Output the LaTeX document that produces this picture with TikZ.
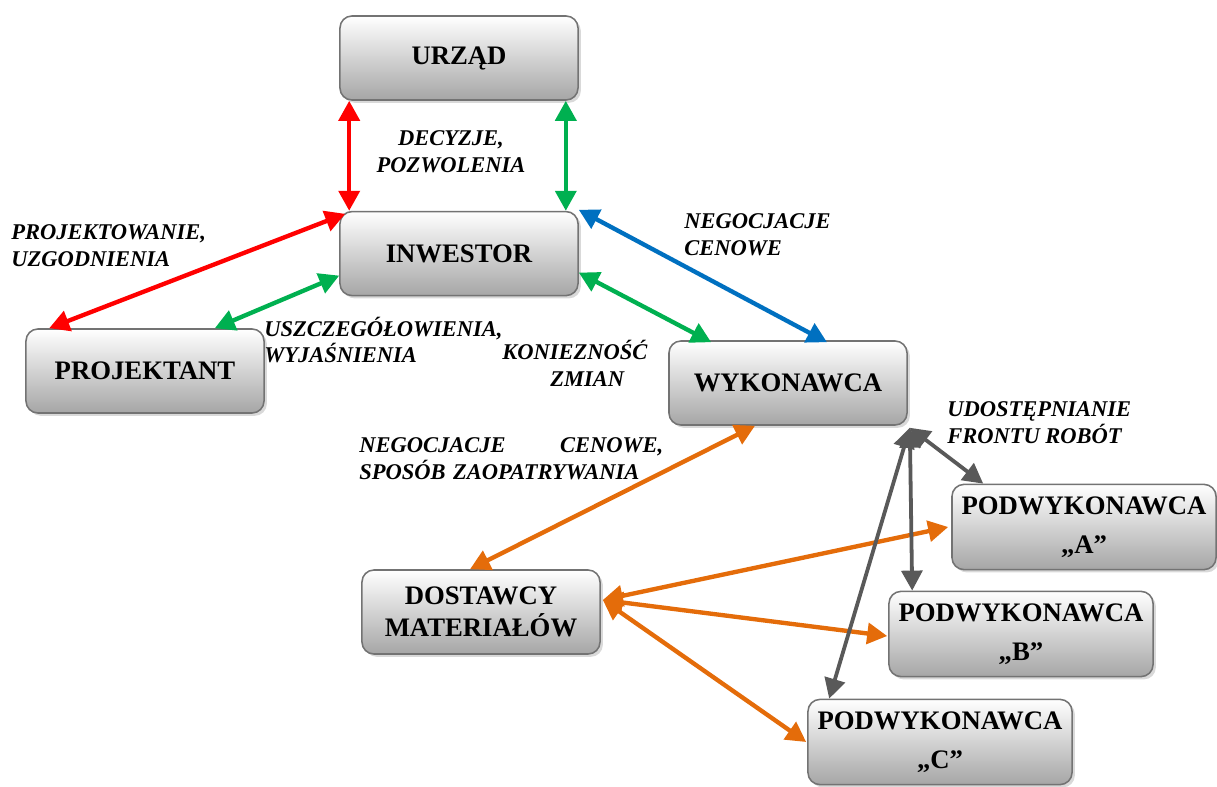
\documentclass[tikz,border=0pt]{standalone}
\usepackage{fontspec}
\setmainfont{Liberation Serif}
\usetikzlibrary{arrows.meta,positioning,calc,shadows}
\definecolor{linkred}{RGB}{255,0,0}
\definecolor{linkgreen}{RGB}{0,176,80}
\definecolor{linkblue}{RGB}{0,112,192}
\definecolor{linkorange}{RGB}{228,108,10}
\definecolor{linkgray}{RGB}{89,89,89}

\begin{document}
\begin{tikzpicture}[x=0.025cm,y=-0.025cm,>={Triangle[length=0.5cm,width=0.52cm]},
  box/.style={draw=black!55,line width=1.1pt,rounded corners=0.3cm,top color=white,bottom color=gray!70,
    drop shadow={shadow xshift=2pt,shadow yshift=-2pt,opacity=0.3},align=center,
    minimum width=5.95cm,minimum height=2.1cm,font=\bfseries\fontsize{19}{23}\selectfont},
  subbox/.style={box,minimum width=6.6cm,minimum height=2.13cm,font=\bfseries\fontsize{19}{28}\selectfont},
  lbl/.style={font=\bfseries\itshape\fontsize{16}{19}\selectfont,align=left,inner sep=0pt},
  link/.style={<->,line width=3.1pt}]
  \useasboundingbox (0,0) rectangle (1217,787);

  \node[box] (urz) at (459,58) {URZĄD};
  \node[box,below=2.75cm of urz] (inw) {INWESTOR};
  \node[box] (proj) at (145,371) {PROJEKTANT};
  \node[box] (wyk) at (788,383) {WYKONAWCA};
  \node[box] (dost) at (481,612) {DOSTAWCY\\MATERIAŁÓW};
  \node[subbox] (pa) at (1084,527) {PODWYKONAWCA\\„A”};
  \node[subbox] (pb) at (1021,634) {PODWYKONAWCA\\„B”};
  \node[subbox] (pc) at (940,742) {PODWYKONAWCA\\„C”};

  % labels
  \node[lbl,align=center] (decl) at (451,152) {DECYZJE,\\POZWOLENIA};
  \node[lbl,anchor=west] (projl) at (11,246) {PROJEKTOWANIE,\\UZGODNIENIA};
  \node[lbl,anchor=west] (uszl) at (264,340) {USZCZEGÓŁOWIENIA,\\WYJAŚNIENIA};
  \node[lbl,anchor=west] (konl) at (502,363) {KONIEZNOŚĆ\\\hspace*{1.2cm}ZMIAN};
  \node[lbl,anchor=west] (negl) at (684,235) {NEGOCJACJE\\CENOWE};
  \node[lbl,anchor=west,text width=7.6cm] (zaol) at (359,459) {NEGOCJACJE\hfill CENOWE,\\SPOSÓB ZAOPATRYWANIA};
  \node[lbl,anchor=west] (udol) at (947,423) {UDOSTĘPNIANIE\\FRONTU ROBÓT};

  % investor links
  \draw[link,linkred] ($(urz.south west)+(10,0)$) -- ($(inw.north west)+(10,0)$);
  \draw[link,linkgreen] ($(urz.south east)+(-13,0)$) -- ($(inw.north east)+(-13,0)$);
  \draw[link,linkred] ($(inw.north west)+(6,3)$) -- ($(proj.north west)+(24,0)$);
  \draw[link,linkgreen] ($(inw.west)+(0,22)$) -- ($(proj.north east)+(-50,0)$);
  \draw[link,linkblue] ($(inw.north east)+(0,-1)$) -- ($(wyk.north)+(39,2)$);
  \draw[link,linkgreen] ($(inw.east)+(0,19)$) -- ($(wyk.north west)+(43,2)$);

  % supplies
  \draw[link,linkorange] ($(wyk.south)+(-33,0)$) -- ($(dost.north)+(-11,0)$);
  \coordinate (dhub) at ($(dost.east)+(2,-12)$);
  \draw[link,linkorange] (dhub) -- ($(pa.west)+(-3,0)$);
  \draw[link,linkorange] (dhub) -- ($(pb.west)+(-1,2)$);
  \draw[link,linkorange] (dhub) -- ($(pc.west)+(-1,0)$);

  % subcontractors
  \coordinate (whub) at ($(wyk.south east)+(2,2)$);
  \draw[link,linkgray,line width=2.7pt] (whub) -- ($(pa.north west)+(32,0)$);
  \draw[link,linkgray,line width=2.7pt] (whub) -- ($(pb.north west)+(24,0)$);
  \draw[link,linkgray,line width=2.7pt] (whub) -- ($(pc.north west)+(22,0)$);
\end{tikzpicture}
\end{document}
